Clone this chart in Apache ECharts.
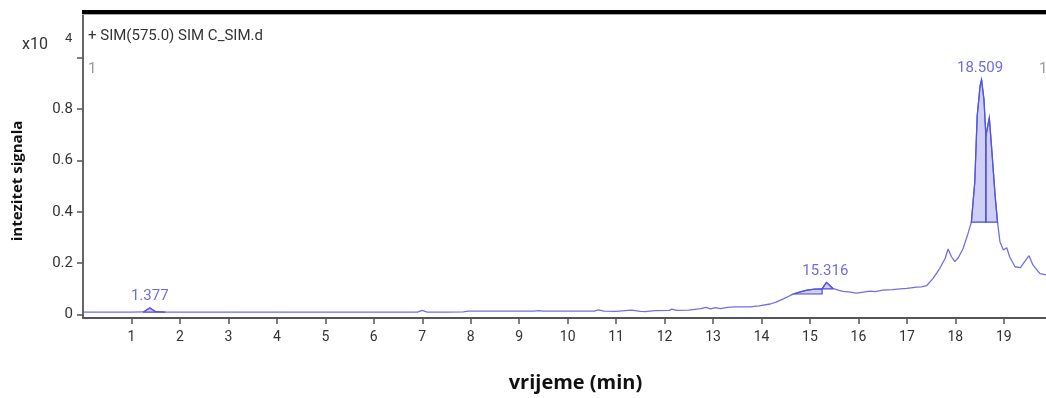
<!DOCTYPE html>
<html>
<head>
<meta charset="utf-8">
<script src="https://cdn.jsdelivr.net/npm/echarts@6/dist/echarts.min.js"></script>
<style>
html,body{margin:0;padding:0;background:#fff;}
#c{width:1046px;height:398px;}
</style>
</head>
<body>
<div id="c"></div>
<script>
// retention time (min)
const times = [0, 0.5, 1.0, 1.25, 1.377, 1.5, 1.7, 2.5, 4, 6.0, 6.9, 7.0, 7.1, 7.5, 7.85, 7.95, 8.5, 9.3, 9.4, 9.5, 10.2, 10.55, 10.63, 10.75, 11.0, 11.25, 11.32, 11.5, 11.6, 11.8, 12.1, 12.15, 12.25, 12.5, 12.75, 12.85, 12.95, 13.05, 13.15, 13.3, 13.45, 13.6, 13.76, 13.95, 14.18, 14.3, 14.45, 14.66, 14.8, 14.94, 15.1, 15.25, 15.34, 15.47, 15.6, 15.68, 15.8, 15.96, 16.1, 16.24, 16.35, 16.5, 16.7, 16.86, 17.0, 17.2, 17.3, 17.41, 17.54, 17.68, 17.79, 17.85, 17.92, 17.99, 18.06, 18.16, 18.26, 18.33, 18.40, 18.45, 18.51, 18.54, 18.59, 18.63, 18.70, 18.75, 18.82, 18.87, 18.92, 18.99, 19.06, 19.12, 19.23, 19.34, 19.43, 19.52, 19.6, 19.74, 19.87];
// signal intensity (x10^4)
const signal = [0.009, 0.009, 0.009, 0.010, 0.026, 0.011, 0.009, 0.009, 0.009, 0.009, 0.009, 0.016, 0.009, 0.009, 0.010, 0.013, 0.013, 0.013, 0.015, 0.013, 0.013, 0.013, 0.018, 0.013, 0.012, 0.016, 0.017, 0.012, 0.011, 0.015, 0.016, 0.021, 0.016, 0.017, 0.023, 0.028, 0.022, 0.027, 0.023, 0.028, 0.030, 0.030, 0.030, 0.034, 0.041, 0.048, 0.061, 0.080, 0.088, 0.095, 0.099, 0.100, 0.125, 0.102, 0.094, 0.090, 0.088, 0.083, 0.087, 0.091, 0.089, 0.095, 0.097, 0.100, 0.102, 0.107, 0.108, 0.113, 0.141, 0.180, 0.219, 0.255, 0.225, 0.206, 0.221, 0.257, 0.315, 0.360, 0.515, 0.773, 0.890, 0.915, 0.837, 0.696, 0.767, 0.644, 0.463, 0.360, 0.283, 0.251, 0.260, 0.225, 0.186, 0.183, 0.206, 0.229, 0.193, 0.160, 0.154];

// labelled peaks
const peakTimes = [1.377, 15.316, 18.509];
const peakHeights = [0.026, 0.125, 0.915];

// integrated regions
const regionStart = [1.25, 14.66, 15.25, 18.33, 18.63];
const regionEnd = [1.7, 15.25, 15.47, 18.63, 18.87];
const regionBaseStart = [0.009, 0.080, 0.100, 0.360, 0.360];
const regionBaseEnd = [0.009, 0.080, 0.100, 0.360, 0.360];

// axis ticks
const xTicks = [1,2,3,4,5,6,7,8,9,10,11,12,13,14,15,16,17,18,19];
const yTicks = [0, 0.2, 0.4, 0.6, 0.8, 1];
const yLabels = [0, 0.2, 0.4, 0.6, 0.8];

const lineData = times.map((t, i) => [t, signal[i]]);
const regionData = regionStart.map((s, i) => [s, regionEnd[i], regionBaseStart[i], regionBaseEnd[i]]);

const chart = echarts.init(document.getElementById('c'));
const blue = '#5656e4';
chart.setOption({
  animation: false,
  grid: {left: 83, right: 0, top: 12, bottom: 78, containLabel: false},
  xAxis: {
    type: 'value', min: 0, max: 19.87,
    splitLine: {show: false},
    axisLine: {show: true, onZero: false, lineStyle: {color: '#555', width: 2}},
    axisTick: {show: true, customValues: xTicks, length: 6, lineStyle: {color: '#555', width: 1.5}},
    axisLabel: {customValues: xTicks, color: '#333', fontSize: 14, fontFamily: 'Roboto', margin: 12},
    name: 'vrijeme (min)', nameLocation: 'middle', nameGap: 55,
    nameTextStyle: {fontFamily: 'Open Sans', fontWeight: 'bold', fontSize: 20, color: '#111', padding: [0,0,0,22]}
  },
  yAxis: {
    type: 'value', min: -0.0135, max: 1.178,
    splitLine: {show: false},
    axisLine: {show: true, onZero: false, lineStyle: {color: '#666', width: 2}},
    axisTick: {show: true, customValues: yTicks, length: 6, lineStyle: {color: '#555', width: 1.5}},
    axisLabel: {customValues: yLabels, color: '#333', fontSize: 15, fontFamily: 'Roboto', margin: 10}
  },
  series: [
    {
      type: 'custom', coordinateSystem: 'cartesian2d', clip: true, z: 1,
      data: regionData,
      renderItem: function (params, api) {
        const s = api.value(0), e = api.value(1), b0 = api.value(2), b1 = api.value(3);
        const pts = [];
        for (let i = 0; i < times.length; i++) {
          if (times[i] >= s - 1e-9 && times[i] <= e + 1e-9) pts.push(api.coord([times[i], signal[i]]));
        }
        pts.push(api.coord([e, b1]));
        pts.push(api.coord([s, b0]));
        return {
          type: 'polygon',
          shape: {points: pts},
          style: {fill: 'rgba(110,110,230,0.32)', stroke: '#4a4ad8', lineWidth: 1.2}
        };
      }
    },
    {
      type: 'line', data: lineData, showSymbol: false, z: 2,
      lineStyle: {color: blue, width: 1.3, opacity: 0.85}
    },
    {
      type: 'scatter', z: 3, symbolSize: 0,
      data: peakTimes.map((t, i) => [t, peakHeights[i]]),
      label: {
        show: true, position: 'top', distance: 4,
        formatter: p => String(peakTimes[p.dataIndex]),
        color: '#4848d8', fontSize: 15, fontFamily: 'Roboto'
      }
    }
  ],
  graphic: [
    {type: 'rect', shape: {x: 82, y: 10, width: 964, height: 4}, style: {fill: '#000'}, z: 10},
    {type: 'rect', shape: {x: 82, y: 14, width: 964, height: 1}, style: {fill: '#aaa'}, z: 10},
    {type: 'text', left: 88, top: 29, style: {text: '+ SIM(575.0) SIM C_SIM.d', fill: '#333', font: '15px Roboto'}, z: 10},
    {type: 'text', left: 22, top: 37, style: {text: 'x10', fill: '#333', font: '16px Roboto'}, z: 10},
    {type: 'text', left: 65, top: 32, style: {text: '4', fill: '#333', font: '13px Roboto'}, z: 10},
    {type: 'text', left: 88, top: 62, style: {text: '1', fill: '#999', font: '15px Roboto'}, z: 10},
    {type: 'text', left: 1039, top: 62, style: {text: '1', fill: '#999', font: '15px Roboto'}, z: 10},
    {type: 'text', x: 18, y: 181, rotation: Math.PI / 2, z: 10,
     style: {text: 'intezitet signala', fill: '#111', font: 'bold 15px "Open Sans"', align: 'center', verticalAlign: 'middle'}}
  ]
});
</script>
</body>
</html>
